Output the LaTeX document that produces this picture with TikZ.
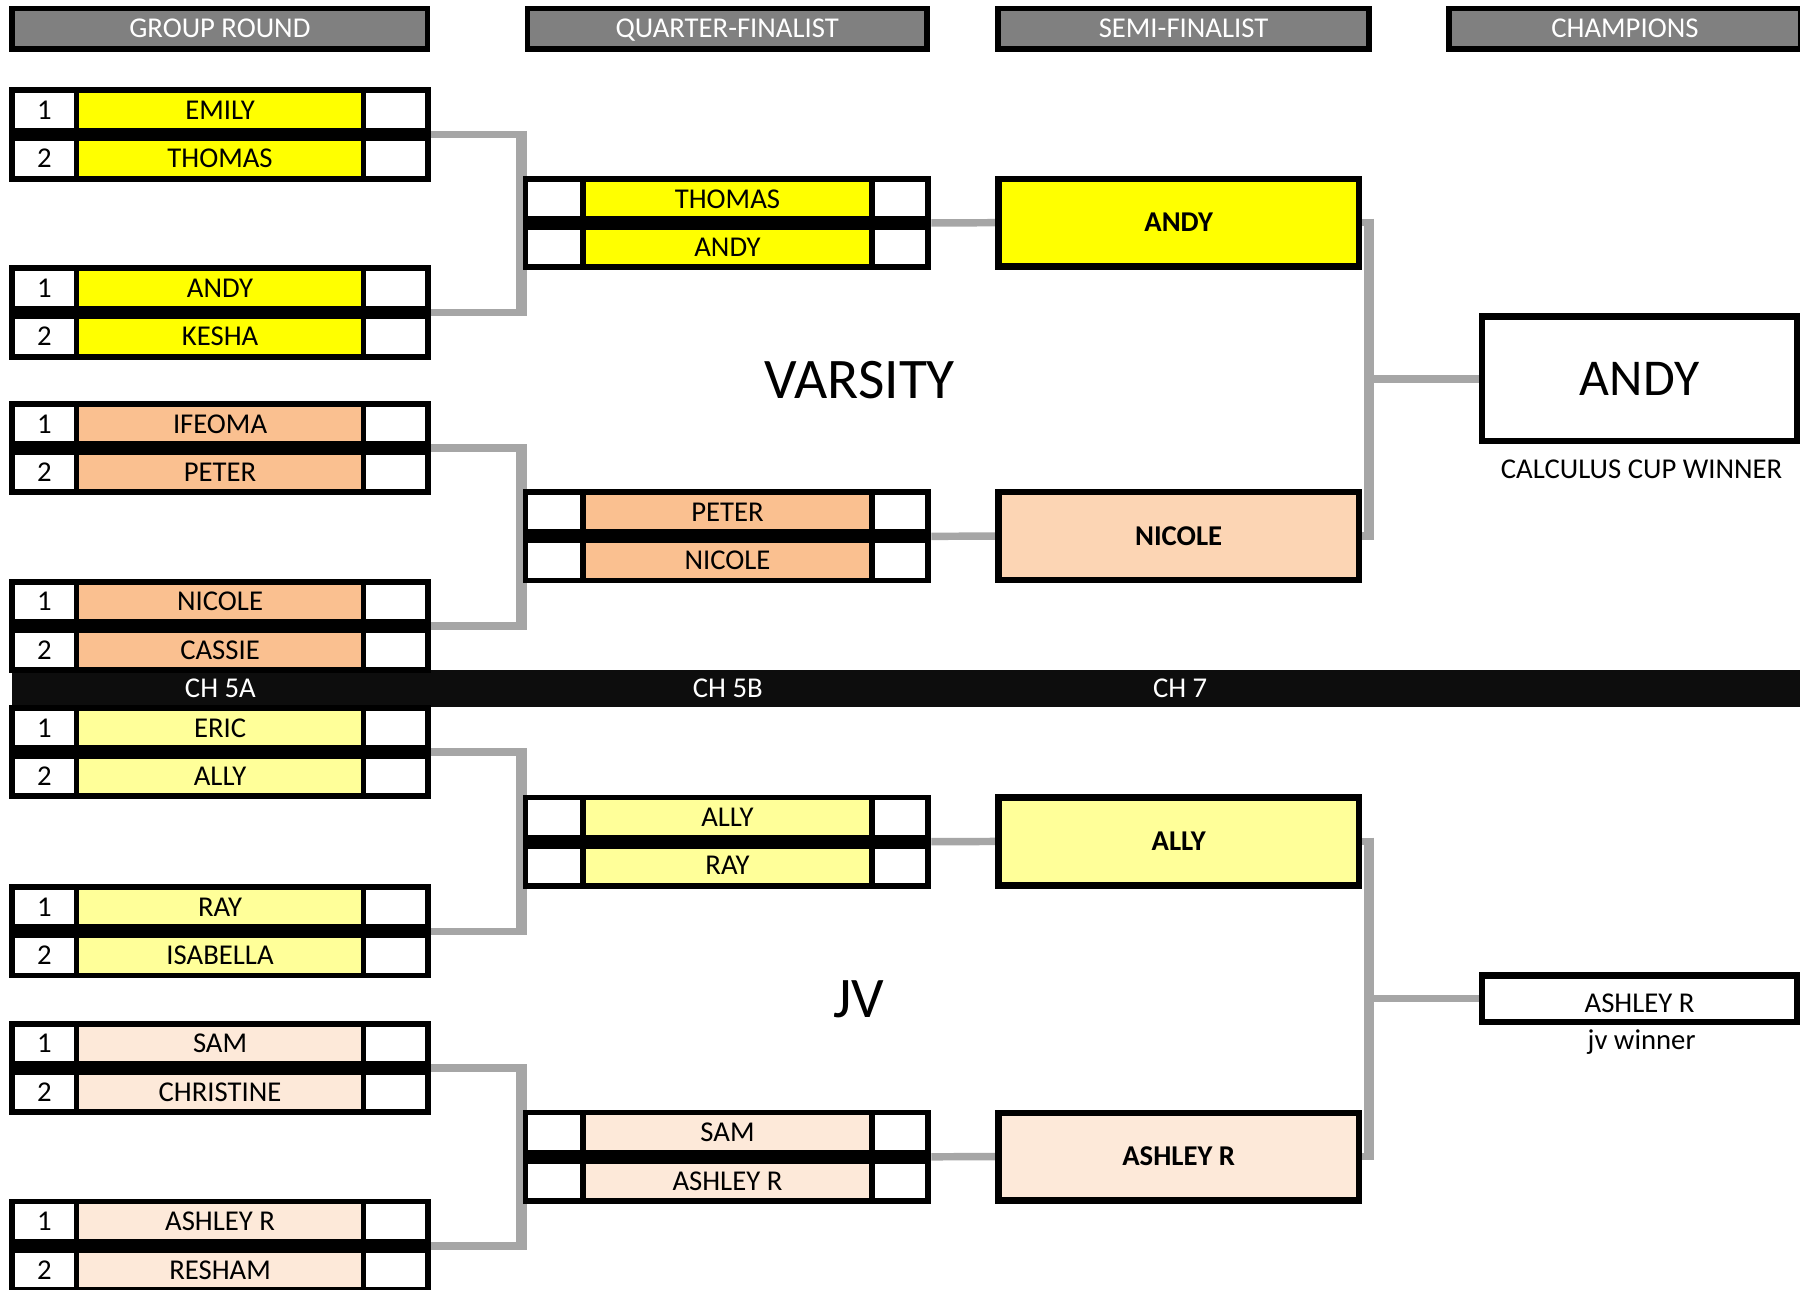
\documentclass[tikz,border=0pt]{standalone}
\usepackage{fontspec}
\setmainfont{Carlito}
\usetikzlibrary{backgrounds}
\definecolor{vyel}{HTML}{FFFF00}
\definecolor{vorg}{HTML}{FAC090}
\definecolor{vorgl}{HTML}{FCD5B4}
\definecolor{jyel}{HTML}{FFFF99}
\definecolor{jpch}{HTML}{FDE9D9}
\definecolor{hdrgray}{HTML}{808080}
\definecolor{brk}{HTML}{A6A6A6}
\definecolor{chbar}{HTML}{0D0D0D}
\tikzset{
 every node/.style={font=\fontsize{25}{30}\selectfont, inner sep=0pt},
 pairbox/.style={rectangle, fill=black, minimum height=82pt, anchor=north west},
 cell/.style={rectangle, minimum height=30pt, anchor=north west, text height=16pt, text depth=0pt},
 hdr/.style={rectangle, draw=black, line width=5pt, fill=hdrgray, text=white, minimum height=35pt, text height=16pt, text depth=0pt},
 semibox/.style={rectangle, draw=black, line width=5.5pt, minimum width=314pt, minimum height=76.5pt, font=\fontsize{25}{30}\selectfont\bfseries, text height=16pt, text depth=0pt},
 champbox/.style={rectangle, draw=black, line width=5.5pt, fill=white, minimum width=274.5pt},
 captext/.style={text height=16pt, text depth=0pt},
 hline/.style={draw=brk, line width=6.5pt},
 vline/.style={draw=brk, line width=9.5pt, shorten <=-3.25pt, shorten >=-3.25pt},
}
\newcommand{\gpair}[5]{%
  \node[pairbox, minimum width=367pt] (#1) at (8,#2) {};
  \node[cell, fill=white, minimum width=51pt] (#1a) at (13,#2+5) {1};
  \node[cell, fill=#3, minimum width=245pt] (#1b) at (69,#2+5) {#4};
  \node[cell, fill=white, minimum width=51pt] (#1c) at (319,#2+5) {};
  \node[cell, fill=white, minimum width=51pt] (#1d) at (13,#2+47) {2};
  \node[cell, fill=#3, minimum width=245pt] (#1e) at (69,#2+47) {#5};
  \node[cell, fill=white, minimum width=51pt] (#1f) at (319,#2+47) {};
}
\newcommand{\qpair}[5]{%
  \node[pairbox, minimum width=356pt] (#1) at (455,#2) {};
  \node[cell, fill=white, minimum width=45pt] (#1a) at (460,#2+5) {};
  \node[cell, fill=#3, minimum width=247pt] (#1b) at (510,#2+5) {#4};
  \node[cell, fill=white, minimum width=44pt] (#1c) at (762,#2+5) {};
  \node[cell, fill=white, minimum width=45pt] (#1d) at (460,#2+47) {};
  \node[cell, fill=#3, minimum width=247pt] (#1e) at (510,#2+47) {#5};
  \node[cell, fill=white, minimum width=44pt] (#1f) at (762,#2+47) {};
}
\begin{document}
\begin{tikzpicture}[x=1pt, y=-1pt]
\useasboundingbox (0,0) rectangle (1568,1123);

% headers
\node[hdr, minimum width=362pt] (h1) at (191.5,25) {GROUP ROUND};
\node[hdr, minimum width=348pt] (h2) at (633.5,25) {QUARTER-FINALIST};
\node[hdr, minimum width=323pt] (h3) at (1031,25) {SEMI-FINALIST};
\node[hdr, minimum width=306pt] (h4) at (1415.5,25) {CHAMPIONS};

% divider bar
\node[rectangle, fill=chbar, minimum width=1565pt, minimum height=32pt, anchor=west] (chb) at (10,600) {};
\node[captext, text=white] (ch1) at (192,600) {CH 5A};
\node[captext, text=white] (ch2) at (634,600) {CH 5B};
\node[captext, text=white] (ch3) at (1028,600) {CH 7};

% group round
\gpair{g1}{76}{vyel}{EMILY}{THOMAS}
\gpair{g2}{231}{vyel}{ANDY}{KESHA}
\gpair{g3}{349}{vorg}{IFEOMA}{PETER}
\gpair{g4}{504}{vorg}{NICOLE}{CASSIE}
\gpair{g5}{614}{jyel}{ERIC}{ALLY}
\gpair{g6}{770}{jyel}{RAY}{ISABELLA}
\gpair{g7}{889}{jpch}{SAM}{CHRISTINE}
\gpair{g8}{1044}{jpch}{ASHLEY R}{RESHAM}

% quarter-finalists
\qpair{q1}{153}{vyel}{THOMAS}{ANDY}
\qpair{q2}{426}{vorg}{PETER}{NICOLE}
\qpair{q3}{692}{jyel}{ALLY}{RAY}
\qpair{q4}{966.5}{jpch}{SAM}{ASHLEY R}

% semi-finalists
\node[semibox, fill=vyel] (s1) at (1026.75,194) {ANDY};
\node[semibox, fill=vorgl] (s2) at (1026.75,467) {NICOLE};
\node[semibox, fill=jyel] (s3) at (1026.75,733) {ALLY};
\node[semibox, fill=jpch] (s4) at (1026.75,1007.5) {ASHLEY R};

% champions
\node[champbox, minimum height=108.5pt, font=\fontsize{45}{54}\selectfont, text height=29pt, text depth=0pt] (c1) at (1428.25,330) {ANDY};
\node[captext] (l1) at (1430,409.2) {CALCULUS CUP WINNER};
\node[champbox, minimum height=40.5pt, captext] (c2) at (1428.25,870) {\raisebox{-4.4pt}{ASHLEY R}};
\node[anchor=base] (l2) at (1430,914.6) {jv winner};

% section titles
\node[font=\fontsize{50}{60}\selectfont, text height=32.2pt, text depth=0pt] (vt) at (749,331) {VARSITY};
\node[font=\fontsize{50}{60}\selectfont, text height=32.2pt, text depth=0pt] (jt) at (748,870) {JV};

\coordinate (sv1) at ([xshift=6pt]s1.east);
\coordinate (sv2) at ([xshift=6pt]s2.east);
\coordinate (sv3) at ([xshift=6pt]s3.east);
\coordinate (sv4) at ([xshift=6pt]s4.east);

\begin{scope}[on background layer]
\fill[white] (0,0) rectangle (1568,1123);
\foreach \a/\b in {g1/g2, g3/g4, g5/g6, g7/g8} {
  \draw[hline] (\a.east) -- ++(78.7,0) |- (\b.east);
  \draw[vline] ([xshift=78.7pt]\a.east) -- ([xshift=78.7pt]\b.east);
}
\foreach \q/\s in {q1/s1, q2/s2, q3/s3, q4/s4} {
  \draw[hline] (\q.east) -- (\s.west);
}
\draw[hline] (s1.east) -- (sv1);
\draw[hline] (s2.east) -- (sv2);
\draw[vline] (sv1) -- (sv2);
\draw[hline] (c1.west) -- (sv1 |- c1.west);
\draw[hline] (s3.east) -- (sv3);
\draw[hline] (s4.east) -- (sv4);
\draw[vline] (sv3) -- (sv4);
\draw[hline] (c2.west) -- (sv3 |- c2.west);
\end{scope}
\end{tikzpicture}
\end{document}
